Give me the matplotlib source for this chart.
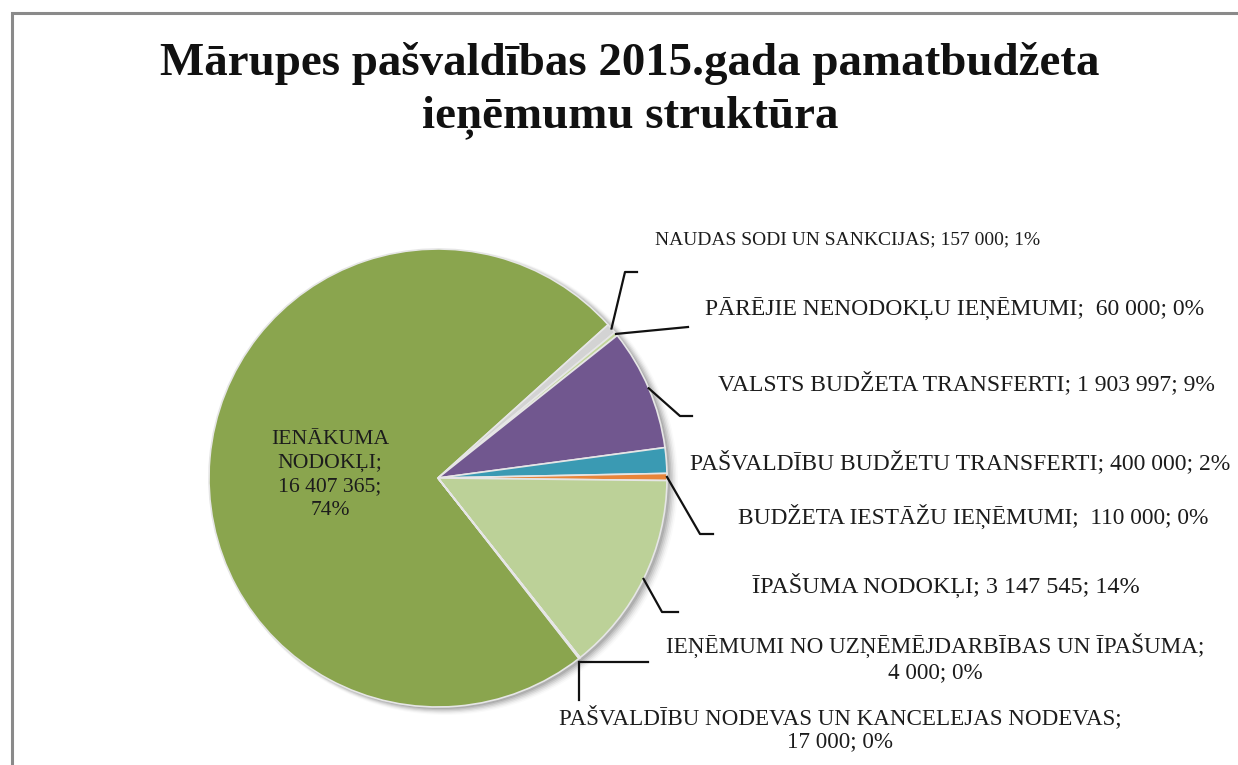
import numpy as np
import matplotlib
matplotlib.use("Agg")
import matplotlib.pyplot as plt
from matplotlib.patches import Circle

# --- data ---
categories = [
    "IENĀKUMA NODOKĻI",
    "NAUDAS SODI UN SANKCIJAS",
    "PĀRĒJIE NENODOKĻU IEŅĒMUMI",
    "VALSTS BUDŽETA TRANSFERTI",
    "PAŠVALDĪBU BUDŽETU TRANSFERTI",
    "BUDŽETA IESTĀŽU IEŅĒMUMI",
    "ĪPAŠUMA NODOKĻI",
    "IEŅĒMUMI NO UZŅĒMĒJDARBĪBAS UN ĪPAŠUMA",
    "PAŠVALDĪBU NODEVAS UN KANCELEJAS NODEVAS",
]
values = [16407365, 157000, 60000, 1903997, 400000, 110000, 3147545, 4000, 17000]
value_text = ["16 407 365", "157 000", "60 000", "1 903 997", "400 000",
              "110 000", "3 147 545", "4 000", "17 000"]
colors = ["#8AA54E", "#D3D3D3", "#C2D69B", "#71578F", "#3A9AB3",
          "#E8853A", "#BCD198", "#BCD198", "#8AA54E"]

W, H = 1238, 765
fig = plt.figure(figsize=(W / 100, H / 100), dpi=100)
ax = fig.add_axes([0, 0, 1, 1])


def py(y):
    # pixel-from-top -> data y
    return H - y


serif = ["Liberation Serif", "DejaVu Serif"]
txt_color = "#1c1c1c"

cx, cy, r = 438, py(478), 229

# soft shadow
for i, a in enumerate(np.linspace(0.10, 0.02, 6)):
    ax.add_patch(Circle((cx + 3 + i * 0.8, cy - 2 - i * 0.4), r + i * 0.8,
                        color="#000000", alpha=a, lw=0, zorder=1))

wedges, _ = ax.pie(values, colors=colors, startangle=-52, counterclock=False,
                   center=(cx, cy), radius=r, frame=True,
                   wedgeprops=dict(edgecolor="#E6E6E6", linewidth=1.2))
for w in wedges:
    w.set_zorder(2)
ax.set_xlim(0, W)
ax.set_ylim(0, H)
ax.set_aspect("equal")
ax.axis("off")

# frame
ax.plot([12, 12, W], [0, py(13), py(13)], color="#8a8a8a", lw=2.2,
        solid_joinstyle="miter")

# title
ax.text(630, py(63), "Mārupes pašvaldības 2015.gada pamatbudžeta",
        ha="center", va="center", fontsize=33.8, fontweight="bold",
        family=serif, color="#111111")
ax.text(630, py(117), "ieņēmumu struktūra", ha="center", va="center",
        fontsize=33.8, fontweight="bold", family=serif, color="#111111")


def pct(v):
    return f"{round(100 * v / sum(values)):d}%"


def edge(i):
    w = wedges[i]
    a = np.deg2rad((w.theta1 + w.theta2) / 2)
    return cx + r * np.cos(a), cy + r * np.sin(a)


lab_kw = dict(family=serif, color=txt_color, zorder=5)
line_kw = dict(color="#111111", lw=1.6, zorder=4)

# inside label for the largest slice
ax.text(330, py(475), "IENĀKUMA\nNODOKĻI;\n" + value_text[0] + ";\n" + pct(values[0]),
        ha="center", va="center", linespacing=1.32, fontsize=15.6, **lab_kw)

# outside labels with leader lines
ax.text(655, py(240), f"{categories[1]}; {value_text[1]}; {pct(values[1])}",
        ha="left", va="center", fontsize=14, **lab_kw)
x0, y0 = edge(1)
ax.plot([x0, 625, 637], [y0, py(272), py(272)], **line_kw)

ax.text(705, py(309), f"{categories[2]};  {value_text[2]}; {pct(values[2])}",
        ha="left", va="center", fontsize=17, **lab_kw)
x0, y0 = edge(2)
ax.plot([x0, 688], [y0, py(327)], **line_kw)

ax.text(718, py(383), f"{categories[3]}; {value_text[3]}; {pct(values[3])}",
        ha="left", va="center", fontsize=17, **lab_kw)
x0, y0 = edge(3)
ax.plot([x0, 680, 692], [y0, py(416), py(416)], **line_kw)

ax.text(690, py(462), f"{categories[4]}; {value_text[4]}; {pct(values[4])}",
        ha="left", va="center", fontsize=17, **lab_kw)

ax.text(738, py(516), f"{categories[5]};  {value_text[5]}; {pct(values[5])}",
        ha="left", va="center", fontsize=16.8, **lab_kw)
x0, y0 = edge(5)
ax.plot([x0, 700, 713], [y0, py(534), py(534)], **line_kw)

ax.text(752, py(585), f"{categories[6]}; {value_text[6]}; {pct(values[6])}",
        ha="left", va="center", fontsize=17.4, **lab_kw)
x0, y0 = edge(6)
ax.plot([x0, 662, 678], [y0, py(612), py(612)], **line_kw)

ax.text(935, py(658), f"{categories[7]};\n{value_text[7]}; {pct(values[7])}",
        ha="center", va="center", linespacing=1.2, fontsize=16.7, **lab_kw)
x0, y0 = edge(7)
ax.plot([x0, 648], [py(662), py(662)], **line_kw)

ax.text(840, py(729), f"{categories[8]};\n{value_text[8]}; {pct(values[8])}",
        ha="center", va="center", linespacing=1.15, fontsize=16.6, **lab_kw)
x0, y0 = edge(8)
ax.plot([x0, x0], [py(662), py(700)], **line_kw)

fig.savefig("out.png", dpi=100, facecolor="white")
